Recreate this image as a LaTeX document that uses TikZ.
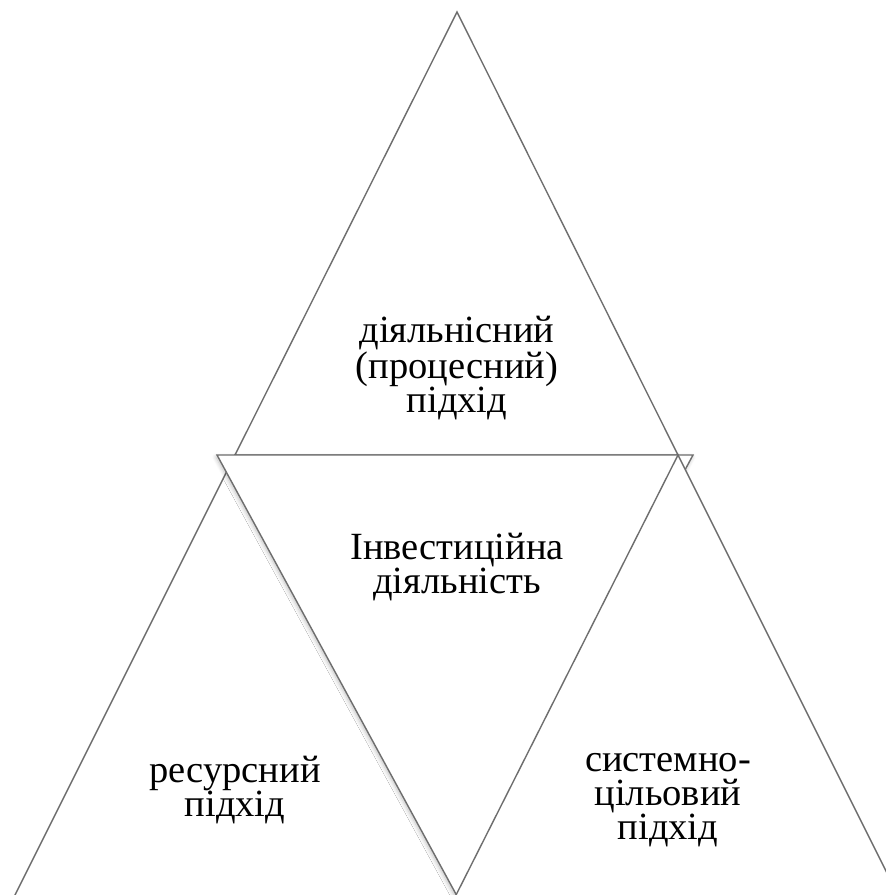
\documentclass[tikz,border=0pt]{standalone}
\usepackage{fontspec}
\setmainfont{Liberation Serif}
\newfontfamily\uaserif{Liberation Serif}
\usepackage{tikz}
\usetikzlibrary{calc}
\usetikzlibrary{shadows.blur}

\definecolor{r110g110b110}{rgb}{0.430000,0.430000,0.430000}%

\tikzset{
  tri/.style={draw=r110g110b110, line width=1.4pt, fill=white, line join=miter},
  trishadow/.style={tri, blur shadow={shadow xshift=-1pt, shadow yshift=-2pt,
      shadow blur radius=4pt, shadow blur steps=8, shadow opacity=25}},
  lbl/.style={align=center, inner sep=0pt, font=\uaserif\fontsize{38.5}{34}\selectfont}
}

\begin{document}
\begin{tikzpicture}[x=1pt,y=-1pt]
  \useasboundingbox (0,0) rectangle (886,895);
  \clip (0,0) rectangle (886,895);

  % Corners of the triangles
  \coordinate (topapex) at (457,12);
  \coordinate (basel) at (235,455);
  \coordinate (baser) at (678,455);
  \coordinate (midl) at (217,455);
  \coordinate (midr) at (693,455);
  \coordinate (midapex) at (457,896);
  \coordinate (leftl) at (10,905);
  \coordinate (leftr) at (482,905);
  \coordinate (rightl) at (451,905);
  \coordinate (rightr) at (903,905);

  % Drawing triangle top
  \draw [tri] (topapex) -- (basel) -- (baser) -- cycle;%

  % Drawing triangle left
  \draw [tri] (basel) -- (leftl) -- (leftr) -- cycle;%

  % Drawing triangle middle (upside down)
  \draw [trishadow] (midl) -- (midr) -- (midapex) -- cycle;%

  % Drawing triangle right
  \draw [tri] (baser) -- (rightl) -- (rightr) -- cycle;%

  % Labels
  \node [lbl] (activity) at (457,368) {діяльнісний\\(процесний)\\підхід};%
  \node [lbl] (invest) at (457,567) {Інвестиційна\\діяльність};%
  \node [lbl] (resource) at (235,790) {ресурсний\\підхід};%
  \node [lbl] (system) at (668,800) {системно-\\цільовий\\підхід};%
\end{tikzpicture}
\end{document}
